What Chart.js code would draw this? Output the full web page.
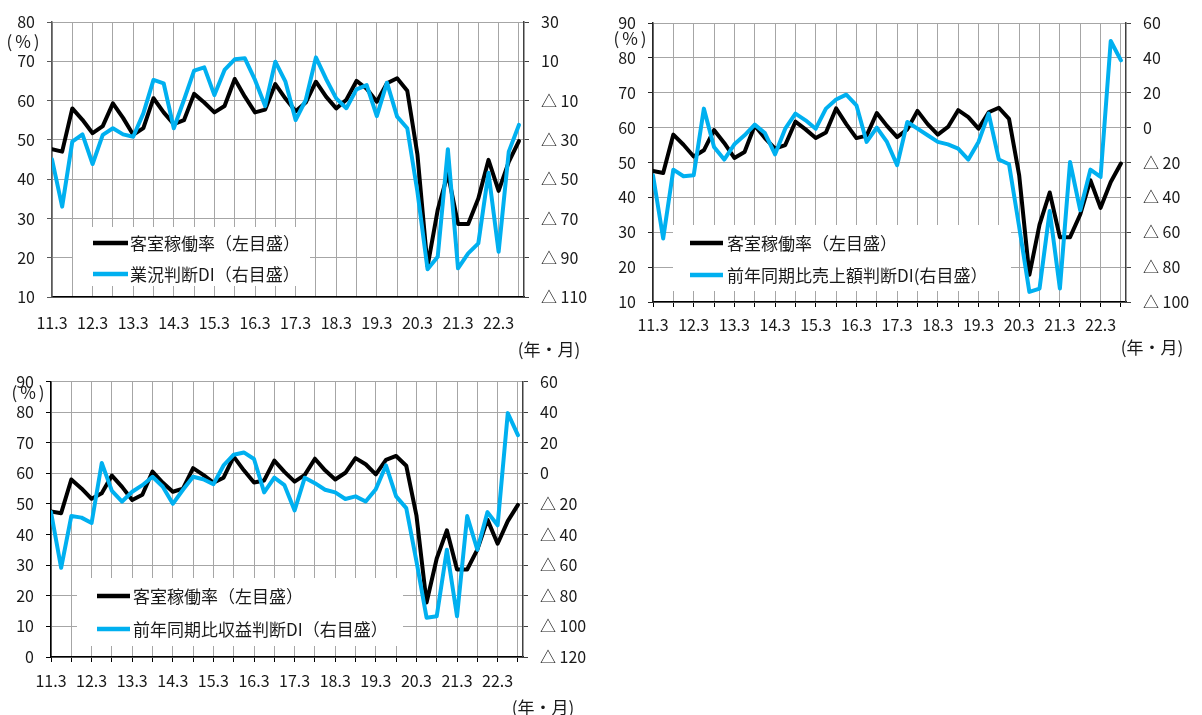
<!DOCTYPE html>
<html lang="ja">
<head>
<meta charset="utf-8">
<title>客室稼働率と判断DI</title>
<script src="https://cdn.jsdelivr.net/npm/chart.js@4/dist/chart.umd.min.js"></script>
<style>
  html, body { margin: 0; padding: 0; background: #fff; }
  body { width: 1202px; height: 715px; position: relative; overflow: hidden; }
  canvas { position: absolute; }
</style>
</head>
<body>
<canvas id="c1" width="600" height="360" style="left:0;top:0"></canvas>
<canvas id="c2" width="602" height="360" style="left:600px;top:0"></canvas>
<canvas id="c3" width="600" height="355" style="left:0;top:360px"></canvas>
<script>
// 四半期（年.月）
const periods = [
  '11.3','11.6','11.9','11.12','12.3','12.6','12.9','12.12',
  '13.3','13.6','13.9','13.12','14.3','14.6','14.9','14.12',
  '15.3','15.6','15.9','15.12','16.3','16.6','16.9','16.12',
  '17.3','17.6','17.9','17.12','18.3','18.6','18.9','18.12',
  '19.3','19.6','19.9','19.12','20.3','20.6','20.9','20.12',
  '21.3','21.6','21.9','21.12','22.3','22.6','22.9'
];

// 客室稼働率（%）
const occupancyRate = [
  47.6, 47.0, 58.0, 55.1, 51.7, 53.5, 59.3, 55.6,
  51.3, 53.0, 60.6, 57.0, 54.0, 55.0, 61.7, 59.5,
  57.0, 58.6, 65.5, 61.0, 57.0, 57.7, 64.2, 60.5,
  57.3, 59.5, 64.8, 61.0, 58.0, 60.2, 65.0, 63.0,
  59.7, 64.4, 65.7, 62.5, 46.3, 17.8, 32.2, 41.4,
  28.6, 28.6, 35.1, 44.9, 37.0, 44.4, 49.7
];

// 業況判断DI
const businessDI = [
  -39.9, -64.0, -30.9, -27.2, -42.3, -27.5, -24.1, -27.2,
  -28.4, -16.5, 0.5, -1.2, -24.1, -9.7, 5.2, 6.9,
  -7.2, 5.6, 11.0, 11.5, 0.5, -12.8, 9.8, -0.4,
  -19.9, -9.7, 12.0, 1.0, -8.9, -13.9, -4.3, -2.1,
  -17.9, -0.9, -18.2, -24.1, -56.4, -95.9, -89.5, -34.8,
  -95.4, -87.8, -82.7, -46.7, -87.0, -36.0, -22.4
];

// 前年同期比売上額判断DI
const salesDI = [
  -27.3, -63.6, -24.1, -27.9, -27.3, 10.9, -11.1, -18.3,
  -9.6, -4.4, 1.7, -3.1, -15.3, -0.6, 8.0, 4.2,
  -0.6, 10.9, 16.1, 18.9, 12.8, -8.2, 0.0, -8.2,
  -21.6, 3.2, -0.6, -4.4, -8.2, -9.6, -12.0, -18.3,
  -8.2, 8.0, -18.3, -21.0, -57.0, -94.2, -92.3, -47.8,
  -92.3, -19.7, -47.4, -24.1, -28.3, 49.7, 38.6
];

// 前年同期比収益判断DI
const profitDI = [
  -25.3, -61.7, -27.9, -28.9, -32.4, 6.8, -11.4, -18.4,
  -12.0, -7.7, -2.2, -8.6, -19.9, -10.7, -2.2, -3.8,
  -7.1, 5.2, 12.2, 13.7, 9.4, -12.4, -2.8, -7.7,
  -24.2, -2.8, -6.4, -10.7, -12.4, -16.7, -15.0, -18.4,
  -10.3, 5.2, -15.0, -22.7, -57.4, -94.3, -93.4, -49.9,
  -93.4, -27.9, -49.9, -25.3, -33.9, 39.4, 25.0
];

const FONT = '"Noto Sans CJK JP", "Noto Sans", sans-serif';
const TEXT = '#1a1a1a';
const GRID = '#A6A6A6';
const BLACK = '#000000';
const BLUE = '#00B0F0';

Chart.defaults.font.family = FONT;
Chart.defaults.font.size = 16;
Chart.defaults.color = TEXT;

const toPoints = arr => arr.map((v, i) => ({ x: i, y: v }));
const rightLabel = v => (v < 0 ? '△ ' + (-v) : String(v));

// 凡例枠・単位表示
const panelDecor = {
  id: 'panelDecor',
  beforeDatasetsDraw(chart, args, o) {
    const ctx = chart.ctx;
    const b = o.box;
    ctx.save();
    ctx.fillStyle = '#ffffff';
    ctx.fillRect(b.x, b.y, b.w, b.h);
    ctx.font = '17px ' + FONT;
    ctx.textBaseline = 'middle';
    ctx.textAlign = 'left';
    chart.data.datasets.forEach((ds, i) => {
      const y = b.rows[i];
      ctx.strokeStyle = ds.borderColor;
      ctx.lineWidth = 4.5;
      ctx.lineCap = 'butt';
      ctx.beginPath();
      ctx.moveTo(b.sample[0], y);
      ctx.lineTo(b.sample[1], y);
      ctx.stroke();
      ctx.fillStyle = TEXT;
      ctx.fillText(ds.label, b.textX, y + 1);
    });
    ctx.restore();
  },
  afterDraw(chart, args, o) {
    const ctx = chart.ctx;
    ctx.save();
    ctx.fillStyle = TEXT;
    ctx.textBaseline = 'middle';
    ctx.textAlign = 'center';
    ctx.font = '17px ' + FONT;
    ctx.letterSpacing = '3px';
    ctx.fillText('(%)', o.pct[0] + 1.5, o.pct[1]);
    ctx.letterSpacing = '0px';
    ctx.fillText('(年・月)', o.unit[0], o.unit[1]);
    ctx.restore();
  }
};

function makePanel(id, cfg) {
  const canvas = document.getElementById(id);
  const W = canvas.width, H = canvas.height;
  const a = cfg.area;
  return new Chart(canvas, {
    type: 'line',
    data: {
      datasets: [
        {
          label: '客室稼働率（左目盛）',
          data: toPoints(occupancyRate),
          borderColor: BLACK,
          borderWidth: 4,
          yAxisID: 'yL',
          order: 1
        },
        {
          label: cfg.diLabel,
          data: toPoints(cfg.di),
          borderColor: BLUE,
          borderWidth: 4,
          yAxisID: 'yR',
          order: 0
        }
      ]
    },
    options: {
      responsive: false,
      animation: false,
      devicePixelRatio: 1,
      layout: { padding: { top: a.top, left: 0, right: 0, bottom: 0 } },
      elements: {
        line: { tension: 0, borderJoinStyle: 'round', borderCapStyle: 'round', fill: false },
        point: { radius: 0, hoverRadius: 0 }
      },
      plugins: {
        legend: { display: false },
        tooltip: { enabled: false },
        panelDecor: cfg.decor
      },
      scales: {
        x: {
          type: 'linear',
          min: 0,
          max: periods.length - 0.5,
          afterFit: s => { s.height = H - a.bottom; },
          afterBuildTicks: s => {
            s.ticks = periods.map((p, i) => i).filter(i => i % 2 === 0).map(i => ({ value: i }));
          },
          ticks: {
            autoSkip: false,
            maxRotation: 0,
            minRotation: 0,
            padding: cfg.xPad,
            font: { size: 16 },
            callback: v => (periods[v] && periods[v].endsWith('.3') ? periods[v] : '')
          },
          grid: {
            color: GRID,
            lineWidth: 1,
            drawTicks: cfg.xTicks,
            tickLength: 5,
            tickColor: '#000'
          },
          border: { color: '#000', width: 1.5 }
        },
        yL: {
          position: 'left',
          min: cfg.left[0],
          max: cfg.left[1],
          afterFit: s => { s.width = a.left; },
          ticks: { stepSize: 10, padding: 12, font: { size: 16 } },
          grid: { color: GRID, lineWidth: 1, tickLength: 5, tickColor: cfg.leftAxisColor },
          border: { color: cfg.leftAxisColor, width: 1.5 }
        },
        yR: {
          position: 'right',
          min: cfg.right[0],
          max: cfg.right[1],
          afterFit: s => { s.width = W - a.right; },
          ticks: { stepSize: 20, padding: 12, font: { size: 16 }, callback: rightLabel },
          grid: { drawOnChartArea: false, tickLength: 5, tickColor: '#404040' },
          border: { color: '#404040', width: 1.5 }
        }
      }
    },
    plugins: [panelDecor]
  });
}

makePanel('c1', {
  diLabel: '業況判断DI（右目盛）',
  di: businessDI,
  left: [10, 80],
  right: [-110, 30],
  area: { left: 52, right: 524, top: 22, bottom: 297 },
  leftAxisColor: '#595959',
  xTicks: false,
  xPad: 16,
  decor: {
    box: { x: 73, y: 227, w: 237, h: 59, rows: [243, 274], sample: [93, 128], textX: 130 },
    pct: [23, 42],
    unit: [549, 350]
  }
});

makePanel('c2', {
  diLabel: '前年同期比売上額判断DI(右目盛）',
  di: salesDI,
  left: [10, 90],
  right: [-100, 60],
  area: { left: 53, right: 526, top: 23, bottom: 302 },
  leftAxisColor: '#262626',
  xTicks: true,
  xPad: 8,
  decor: {
    box: { x: 73, y: 225, w: 338, h: 66, rows: [243, 275], sample: [90, 123], textX: 127 },
    pct: [30, 39],
    unit: [552, 348]
  }
});

makePanel('c3', {
  diLabel: '前年同期比収益判断DI（右目盛）',
  di: profitDI,
  left: [0, 90],
  right: [-120, 60],
  area: { left: 51, right: 523, top: 17, bottom: 297 },
  leftAxisColor: '#000',
  xTicks: true,
  xPad: 9,
  decor: {
    box: { x: 77, y: 218, w: 326, h: 68, rows: [236, 269], sample: [97, 130], textX: 133 },
    pct: [28, 33],
    unit: [543, 348]
  }
});
</script>
</body>
</html>
